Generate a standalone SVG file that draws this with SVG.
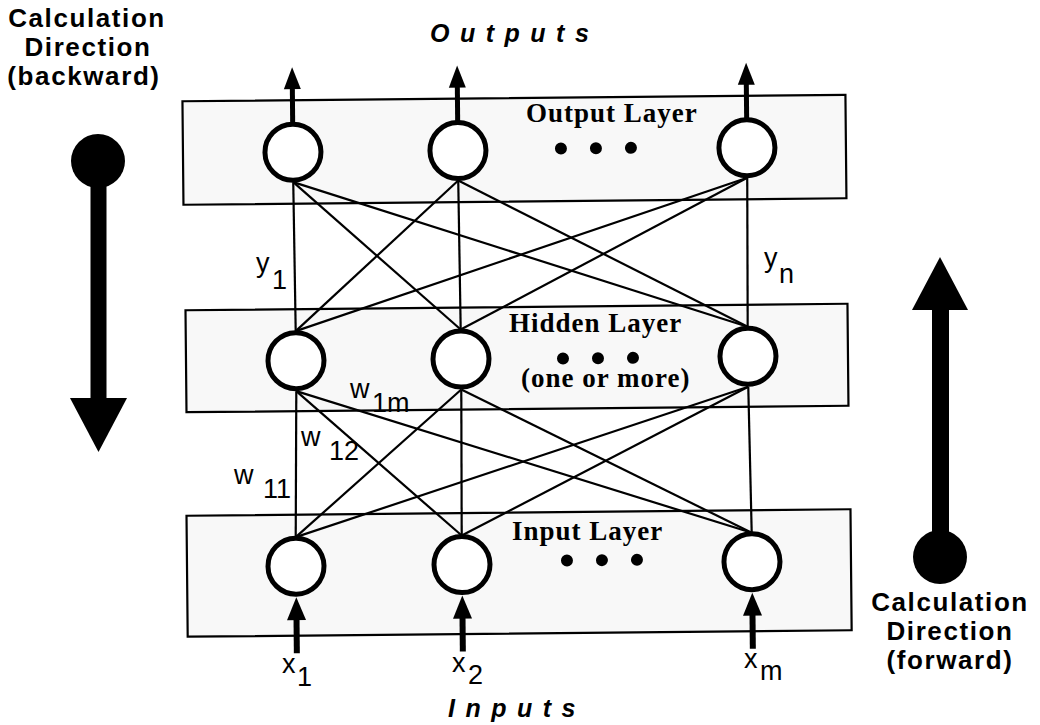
<svg xmlns="http://www.w3.org/2000/svg" width="1040" height="725" viewBox="0 0 1040 725">
<defs>
<style>
.box{fill:#f8f8f8;stroke:#000;stroke-width:2.2}
.node{fill:#fff;stroke:#000;stroke-width:5}
.conn{stroke:#000;stroke-width:2.2;fill:none}
.io{stroke:#000;stroke-width:5;fill:none}
.head{fill:#000}
.dot{fill:#000}
.layer{font-family:"Liberation Serif","Times New Roman",serif;font-weight:bold;font-size:27px;letter-spacing:1px;fill:#000}
.title{font-family:"Liberation Sans",Arial,sans-serif;font-weight:bold;font-style:italic;font-size:25px;letter-spacing:10.5px;fill:#000}
.calc{font-family:"Liberation Sans",Arial,sans-serif;font-weight:bold;font-size:26px;letter-spacing:1.6px;fill:#000;text-anchor:middle}
.lbl{font-family:"Liberation Sans",Arial,sans-serif;font-size:27px;fill:#000}
</style>
</defs>
<rect width="1040" height="725" fill="#fff"/>

<g id="network" transform="rotate(-0.56 516 360)">
  <g id="layers">
    <rect id="output-layer-box" class="box" x="185" y="98" width="663" height="103.5"/>
    <rect id="hidden-layer-box" class="box" x="186" y="307" width="662" height="102"/>
    <rect id="input-layer-box" class="box" x="185" y="512.5" width="664" height="121"/>
  </g>
  <g id="connectors">
    <line class="conn" x1="295" y1="180" x2="296" y2="329"/>
    <line class="conn" x1="295" y1="180" x2="461" y2="329"/>
    <line class="conn" x1="295" y1="180" x2="748" y2="329"/>
    <line class="conn" x1="460" y1="180" x2="296" y2="329"/>
    <line class="conn" x1="460" y1="180" x2="461" y2="329"/>
    <line class="conn" x1="460" y1="180" x2="748" y2="329"/>
    <line class="conn" x1="749" y1="180" x2="296" y2="329"/>
    <line class="conn" x1="749" y1="180" x2="461" y2="329"/>
    <line class="conn" x1="749" y1="180" x2="748" y2="329"/>
    <line class="conn" x1="296" y1="389" x2="294" y2="535"/>
    <line class="conn" x1="296" y1="389" x2="460" y2="535"/>
    <line class="conn" x1="296" y1="389" x2="750" y2="535"/>
    <line class="conn" x1="461" y1="389" x2="294" y2="535"/>
    <line class="conn" x1="461" y1="389" x2="460" y2="535"/>
    <line class="conn" x1="461" y1="389" x2="750" y2="535"/>
    <line class="conn" x1="748" y1="389" x2="294" y2="535"/>
    <line class="conn" x1="748" y1="389" x2="460" y2="535"/>
    <line class="conn" x1="748" y1="389" x2="750" y2="535"/>
    <line class="io" x1="295" y1="121" x2="295" y2="84"/>
    <polygon class="head" points="286.5,87 303.5,87 295,65"/>
    <line class="io" x1="460" y1="121" x2="460" y2="84"/>
    <polygon class="head" points="451.5,87 468.5,87 460,65"/>
    <line class="io" x1="749" y1="121" x2="749" y2="84"/>
    <polygon class="head" points="740.5,87 757.5,87 749,65"/>
    <line class="io" x1="294" y1="651" x2="294" y2="615" style="stroke-width:6"/>
    <polygon class="head" points="284.5,618 303.5,618 294,595"/>
    <line class="io" x1="460" y1="651" x2="460" y2="615" style="stroke-width:6"/>
    <polygon class="head" points="450.5,618 469.5,618 460,595"/>
    <line class="io" x1="750" y1="651" x2="750" y2="615" style="stroke-width:6"/>
    <polygon class="head" points="740.5,618 759.5,618 750,595"/>
  </g>
  <g id="output-nodes">
    <circle id="out1" class="node" cx="295" cy="150" r="28"/>
    <circle id="out2" class="node" cx="460" cy="150" r="28"/>
    <circle id="out3" class="node" cx="749" cy="150" r="28"/>
    <circle class="dot" cx="563" cy="149" r="6"/>
    <circle class="dot" cx="598" cy="149" r="6"/>
    <circle class="dot" cx="633" cy="149" r="6"/>
  </g>
  <g id="hidden-nodes">
    <circle id="hid1" class="node" cx="296" cy="358.5" r="28"/>
    <circle id="hid2" class="node" cx="461" cy="358.5" r="28"/>
    <circle id="hid3" class="node" cx="748" cy="358.5" r="28"/>
    <circle class="dot" cx="563" cy="359" r="6"/>
    <circle class="dot" cx="598" cy="359" r="6"/>
    <circle class="dot" cx="633" cy="359" r="6"/>
  </g>
  <g id="input-nodes">
    <circle id="in1" class="node" cx="294" cy="564" r="28"/>
    <circle id="in2" class="node" cx="460" cy="564" r="28"/>
    <circle id="in3" class="node" cx="750" cy="564" r="28"/>
    <circle class="dot" cx="565" cy="561" r="6"/>
    <circle class="dot" cx="600" cy="561" r="6"/>
    <circle class="dot" cx="635" cy="561" r="6"/>
  </g>
</g>

<g id="layer-labels">
  <text class="layer" x="526" y="122">Output Layer</text>
  <text class="layer" x="509" y="332">Hidden Layer</text>
  <text class="layer" x="521" y="387">(one or more)</text>
  <text class="layer" x="512" y="540">Input Layer</text>
</g>

<g id="titles">
  <text class="title" x="430" y="42">Outputs</text>
  <text class="title" x="448" y="717">Inputs</text>
</g>

<g id="weight-labels">
  <text class="lbl" x="256" y="272">y</text><text class="lbl" x="272" y="289">1</text>
  <text class="lbl" x="764" y="267">y</text><text class="lbl" x="779" y="283">n</text>
  <text class="lbl" x="350" y="398">w</text><text class="lbl" x="372" y="412">1m</text>
  <text class="lbl" x="301" y="446">w</text><text class="lbl" x="329" y="460">12</text>
  <text class="lbl" x="234" y="484">w</text><text class="lbl" x="263" y="498">11</text>
  <text class="lbl" x="282" y="673">x</text><text class="lbl" x="297" y="686">1</text>
  <text class="lbl" x="452" y="672">x</text><text class="lbl" x="468" y="684">2</text>
  <text class="lbl" x="744" y="668">x</text><text class="lbl" x="760" y="680">m</text>
</g>

<g id="backward-direction">
  <circle cx="98" cy="161" r="27" fill="#000"/>
  <rect x="90.5" y="160" width="16" height="240" fill="#000"/>
  <polygon points="70,398 127,398 98.5,452" fill="#000"/>
  <text class="calc" x="87" y="27">Calculation</text>
  <text class="calc" x="88" y="56">Direction</text>
  <text class="calc" x="84" y="85">(backward)</text>
</g>

<g id="forward-direction">
  <circle cx="940" cy="557" r="27" fill="#000"/>
  <rect x="932" y="308" width="17" height="250" fill="#000"/>
  <polygon points="912,310 968,310 940,257" fill="#000"/>
  <text class="calc" x="950" y="611">Calculation</text>
  <text class="calc" x="950" y="640">Direction</text>
  <text class="calc" x="950" y="669">(forward)</text>
</g>
</svg>
